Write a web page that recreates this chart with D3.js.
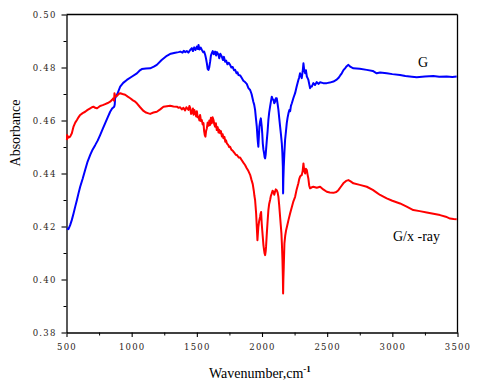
<!DOCTYPE html>
<html><head><meta charset="utf-8">
<script src="https://cdn.jsdelivr.net/npm/d3@7"></script>
<style>
html,body{margin:0;padding:0;background:#fff;}
svg{display:block;}
.tick text{font-family:"DejaVu Serif","Liberation Serif",serif;font-size:8.5px;fill:#2a2418;letter-spacing:1.2px;}
</style></head>
<body>
<script>
const xTicks = [500,1000,1500,2000,2500,3000,3500];
const yTicks = [0.38,0.40,0.42,0.44,0.46,0.48,0.50];
const seriesNames = ["G","G/x -ray"];
const gPoints = [[503,0.4193],[515,0.4190],[528,0.4205],[541,0.4225],[554,0.4249],[567,0.4275],[580,0.4300],[592,0.4325],[605,0.4350],[624,0.4380],[643,0.4413],[662,0.4445],[682,0.4470],[700,0.4490],[720,0.4507],[740,0.4525],[758,0.4545],[778,0.4568],[797,0.4590],[816,0.4612],[835,0.4633],[850,0.4645],[866,0.4652],[870,0.4660],[873,0.4684],[890,0.4700],[912,0.4728],[935,0.4742],[963,0.4753],[1000,0.4765],[1040,0.4778],[1060,0.4788],[1078,0.4794],[1110,0.4796],[1142,0.4797],[1170,0.4803],[1193,0.4810],[1230,0.4828],[1270,0.4844],[1300,0.4852],[1334,0.4856],[1360,0.4858],[1373,0.4860],[1390,0.4856],[1400,0.4863],[1410,0.4858],[1423,0.4862],[1435,0.4856],[1449,0.4866],[1462,0.4873],[1470,0.4862],[1480,0.4876],[1490,0.4866],[1500,0.4879],[1507,0.4870],[1513,0.4885],[1520,0.4868],[1530,0.4875],[1538,0.4867],[1548,0.4858],[1556,0.4860],[1564,0.4848],[1570,0.4835],[1577,0.4816],[1583,0.4795],[1589,0.4791],[1595,0.4800],[1602,0.4822],[1608,0.4845],[1615,0.4854],[1622,0.4862],[1630,0.4850],[1640,0.4860],[1648,0.4845],[1655,0.4858],[1666,0.4848],[1672,0.4835],[1680,0.4852],[1692,0.4841],[1700,0.4828],[1708,0.4840],[1717,0.4822],[1725,0.4826],[1735,0.4812],[1745,0.4818],[1755,0.4810],[1765,0.4800],[1775,0.4802],[1785,0.4790],[1794,0.4791],[1805,0.4778],[1812,0.4782],[1819,0.4772],[1833,0.4770],[1845,0.4760],[1857,0.4750],[1870,0.4745],[1883,0.4738],[1896,0.4722],[1909,0.4715],[1920,0.4700],[1934,0.4670],[1940,0.4660],[1947,0.4640],[1953,0.4610],[1960,0.4577],[1965,0.4539],[1968,0.4520],[1972,0.4501],[1976,0.4540],[1980,0.4577],[1985,0.4595],[1991,0.4608],[1998,0.4577],[2002,0.4550],[2006,0.4514],[2011,0.4490],[2016,0.4476],[2020,0.4462],[2024,0.4457],[2028,0.4470],[2031,0.4489],[2037,0.4526],[2043,0.4560],[2049,0.4602],[2055,0.4630],[2062,0.4652],[2068,0.4670],[2075,0.4690],[2082,0.4680],[2088,0.4678],[2094,0.4665],[2100,0.4671],[2106,0.4684],[2113,0.4684],[2120,0.4662],[2126,0.4640],[2132,0.4610],[2139,0.4577],[2146,0.4545],[2152,0.4514],[2156,0.4480],[2160,0.4426],[2162,0.4325],[2164,0.4380],[2167,0.4426],[2172,0.4480],[2177,0.4526],[2184,0.4560],[2190,0.4590],[2196,0.4610],[2203,0.4627],[2210,0.4640],[2216,0.4635],[2222,0.4655],[2229,0.4665],[2241,0.4685],[2254,0.4703],[2266,0.4728],[2279,0.4753],[2285,0.4762],[2292,0.4778],[2298,0.4770],[2305,0.4760],[2312,0.4785],[2318,0.4816],[2324,0.4790],[2331,0.4778],[2337,0.4790],[2344,0.4766],[2350,0.4760],[2356,0.4753],[2362,0.4738],[2369,0.4722],[2375,0.4728],[2382,0.4728],[2394,0.4741],[2407,0.4734],[2420,0.4745],[2433,0.4738],[2446,0.4744],[2470,0.4741],[2497,0.4741],[2520,0.4743],[2548,0.4747],[2570,0.4753],[2586,0.4760],[2600,0.4770],[2612,0.4778],[2625,0.4790],[2637,0.4797],[2650,0.4805],[2663,0.4810],[2680,0.4802],[2701,0.4797],[2750,0.4795],[2804,0.4791],[2850,0.4787],[2880,0.4778],[2906,0.4781],[2957,0.4778],[3000,0.4775],[3059,0.4772],[3100,0.4768],[3150,0.4765],[3187,0.4763],[3250,0.4766],[3314,0.4768],[3360,0.4765],[3417,0.4766],[3460,0.4764],[3494,0.4766]];
const xrayPoints = [[503,0.4526],[505,0.4545],[515,0.4535],[528,0.4539],[541,0.4552],[554,0.4577],[567,0.4592],[580,0.4602],[592,0.4612],[605,0.4621],[624,0.4628],[643,0.4633],[662,0.4640],[682,0.4646],[695,0.4650],[707,0.4652],[720,0.4648],[733,0.4646],[745,0.4650],[758,0.4655],[778,0.4658],[797,0.4662],[816,0.4666],[835,0.4671],[850,0.4678],[860,0.4684],[865,0.4675],[868,0.4703],[875,0.4690],[887,0.4693],[900,0.4700],[912,0.4703],[930,0.4700],[950,0.4697],[970,0.4690],[989,0.4684],[1010,0.4676],[1027,0.4671],[1040,0.4665],[1065,0.4650],[1091,0.4636],[1110,0.4630],[1129,0.4627],[1142,0.4625],[1167,0.4630],[1193,0.4633],[1219,0.4642],[1244,0.4652],[1270,0.4654],[1295,0.4656],[1321,0.4653],[1347,0.4652],[1360,0.4648],[1372,0.4650],[1385,0.4642],[1397,0.4648],[1410,0.4638],[1420,0.4650],[1436,0.4640],[1443,0.4655],[1449,0.4648],[1456,0.4625],[1462,0.4630],[1470,0.4645],[1475,0.4622],[1481,0.4640],[1487,0.4628],[1495,0.4615],[1500,0.4635],[1507,0.4612],[1513,0.4614],[1520,0.4600],[1525,0.4621],[1532,0.4598],[1538,0.4602],[1545,0.4585],[1551,0.4590],[1556,0.4560],[1561,0.4545],[1566,0.4539],[1571,0.4560],[1577,0.4571],[1583,0.4592],[1590,0.4580],[1596,0.4600],[1602,0.4583],[1608,0.4610],[1615,0.4590],[1621,0.4612],[1628,0.4602],[1634,0.4585],[1640,0.4577],[1646,0.4590],[1653,0.4564],[1660,0.4575],[1666,0.4555],[1672,0.4565],[1679,0.4552],[1685,0.4560],[1692,0.4540],[1698,0.4548],[1704,0.4533],[1712,0.4538],[1718,0.4520],[1724,0.4525],[1730,0.4514],[1740,0.4508],[1748,0.4500],[1755,0.4501],[1765,0.4490],[1775,0.4486],[1781,0.4482],[1790,0.4477],[1800,0.4470],[1807,0.4470],[1815,0.4465],[1822,0.4460],[1832,0.4460],[1845,0.4450],[1857,0.4441],[1870,0.4432],[1883,0.4420],[1895,0.4410],[1909,0.4395],[1920,0.4375],[1929,0.4360],[1937,0.4335],[1942,0.4315],[1947,0.4300],[1951,0.4275],[1955,0.4249],[1960,0.4199],[1965,0.4148],[1968,0.4170],[1972,0.4199],[1978,0.4220],[1985,0.4236],[1989,0.4248],[1993,0.4255],[1998,0.4211],[2002,0.4185],[2006,0.4161],[2011,0.4130],[2016,0.4111],[2020,0.4098],[2024,0.4092],[2028,0.4105],[2031,0.4123],[2037,0.4174],[2043,0.4220],[2049,0.4262],[2055,0.4285],[2062,0.4300],[2068,0.4315],[2075,0.4325],[2081,0.4335],[2088,0.4331],[2094,0.4320],[2100,0.4331],[2106,0.4340],[2113,0.4337],[2120,0.4328],[2126,0.4312],[2132,0.4280],[2139,0.4236],[2144,0.4205],[2149,0.4174],[2153,0.4130],[2157,0.4073],[2160,0.4010],[2162,0.3947],[2164,0.4000],[2167,0.4048],[2170,0.4100],[2172,0.4136],[2178,0.4165],[2185,0.4186],[2194,0.4205],[2203,0.4224],[2216,0.4250],[2229,0.4274],[2241,0.4295],[2254,0.4312],[2266,0.4340],[2279,0.4363],[2285,0.4378],[2292,0.4388],[2298,0.4392],[2305,0.4394],[2312,0.4410],[2318,0.4438],[2324,0.4410],[2331,0.4400],[2337,0.4418],[2344,0.4413],[2350,0.4395],[2356,0.4380],[2362,0.4355],[2369,0.4344],[2382,0.4348],[2394,0.4350],[2420,0.4346],[2446,0.4350],[2470,0.4340],[2497,0.4331],[2520,0.4328],[2548,0.4327],[2570,0.4330],[2586,0.4337],[2605,0.4350],[2624,0.4363],[2645,0.4372],[2663,0.4375],[2680,0.4370],[2701,0.4363],[2750,0.4357],[2804,0.4350],[2850,0.4338],[2880,0.4328],[2906,0.4319],[2957,0.4306],[3000,0.4297],[3059,0.4287],[3110,0.4275],[3161,0.4262],[3210,0.4258],[3264,0.4253],[3315,0.4248],[3366,0.4243],[3410,0.4237],[3443,0.4230],[3470,0.4228],[3494,0.4227]];

const W = 487, H = 387;
const L = 66.5, R = 457.5, T = 14.5, B = 332.5;
const svg = d3.select("body").append("svg").attr("width", W).attr("height", H);
const x = d3.scaleLinear().domain([500, 3500]).range([L, R]);
const y = d3.scaleLinear().domain([0.38, 0.50]).range([B, T]);

const xMinor = d3.range(750, 3500, 500);
const yMinor = [0.39,0.41,0.43,0.45,0.47,0.49];
svg.append("g").attr("transform", `translate(0,${B})`)
  .call(d3.axisBottom(x).tickValues(xMinor).tickSize(3).tickFormat("").tickSizeOuter(0))
  .call(g => g.select(".domain").remove())
  .selectAll("line").attr("stroke","#000");
svg.append("g").attr("transform", `translate(${L},0)`)
  .call(d3.axisLeft(y).tickValues(yMinor).tickSize(3).tickFormat("").tickSizeOuter(0))
  .call(g => g.select(".domain").remove())
  .selectAll("line").attr("stroke","#000");

const xa = svg.append("g").attr("transform", `translate(0,${B})`)
  .call(d3.axisBottom(x).tickValues(xTicks).tickSize(4.5).tickSizeOuter(0).tickPadding(7).tickFormat(d3.format("d")));
const ya = svg.append("g").attr("transform", `translate(${L},0)`)
  .call(d3.axisLeft(y).tickValues(yTicks).tickSize(5).tickSizeOuter(0).tickPadding(5).tickFormat(d3.format(".2f")));
[xa, ya].forEach(a => { a.select(".domain").attr("stroke","#000").attr("stroke-width",1.3); a.selectAll(".tick line").attr("stroke","#000").attr("stroke-width",1.1); });

svg.append("line").attr("x1",L).attr("x2",R).attr("y1",T).attr("y2",T).attr("stroke","#000").attr("stroke-width",1.3);
svg.append("line").attr("x1",R).attr("x2",R).attr("y1",T).attr("y2",B).attr("stroke","#000").attr("stroke-width",1.3);

const line = d3.line().x(d => x(d[0])).y(d => y(d[1]));
svg.append("path").datum(gPoints).attr("d", line).attr("fill","none").attr("stroke","#0000ff").attr("stroke-width",2).attr("stroke-linejoin","round");
svg.append("path").datum(xrayPoints).attr("d", line).attr("fill","none").attr("stroke","#ff0000").attr("stroke-width",2).attr("stroke-linejoin","round");

const serif = '"Liberation Serif","Times New Roman",serif';
svg.append("text").attr("x", 418).attr("y", 67).attr("font-family", serif).attr("font-size", 14).text(seriesNames[0]);
svg.append("text").attr("x", 393).attr("y", 241).attr("font-family", serif).attr("font-size", 14).text(seriesNames[1]);

svg.append("text").attr("transform","translate(20,133) rotate(-90)").attr("text-anchor","middle")
  .attr("font-family", serif).attr("font-size", 14).text("Absorbance");
const xt = svg.append("text").attr("x", 209).attr("y", 378).attr("font-family", serif).attr("font-size", 14);
xt.append("tspan").text("Wavenumber,cm");
xt.append("tspan").attr("dy", -6).attr("font-size", 9).attr("font-weight","bold").text("-1");
</script>
</body></html>
